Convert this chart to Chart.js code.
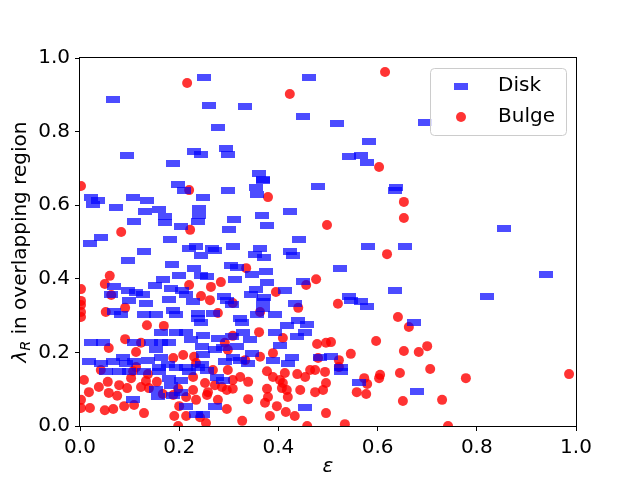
<!DOCTYPE html>
<html>
<head>
<meta charset="utf-8">
<script src="https://cdn.jsdelivr.net/npm/chart.js@4.4.0/dist/chart.umd.min.js"></script>
<style>body{margin:0;background:#fff}</style>
</head>
<body>
<canvas id="c" width="640" height="480"></canvas>
<script>
// values
const diskEps = [0.067,0.25,0.462,0.095,0.188,0.23,0.244,0.26,0.333,0.45,0.278,0.294,0.298,0.361,0.369,0.518,0.696,0.583,0.542,0.567,0.579,
  0.198,0.21,0.022,0.036,0.026,0.107,0.135,0.073,0.131,0.159,0.24,0.171,0.171,0.24,0.109,0.204,0.238,0.042,0.02,0.181,0.234,0.22,0.129,0.244,
  0.097,0.185,0.23,0.244,0.2,0.167,0.151,0.183,0.206,0.214,0.069,0.063,0.097,0.113,0.127,0.099,0.179,0.228,
  0.369,0.355,0.357,0.48,0.298,0.248,0.367,0.377,0.423,0.31,0.3,0.442,0.308,0.266,0.272,0.363,0.353,0.371,0.423,0.429,0.304,0.317,0.347,0.375,
  0.256,0.312,0.377,0.45,0.355,0.345,0.413,0.371,0.29,0.296,0.433,
  0.637,0.635,0.581,0.655,0.524,0.635,0.542,0.546,0.567,0.855,0.94,0.82,
  0.133,0.069,0.083,0.129,0.153,0.188,0.194,0.238,0.238,0.244,0.163,0.194,0.214,0.224,0.022,0.046,0.109,0.143,0.163,0.179,0.153,0.087,0.093,
  0.018,0.042,0.067,0.109,0.137,0.163,0.159,0.177,0.194,0.214,0.238,0.052,0.079,0.099,0.129,0.159,0.179,0.183,0.204,0.22,0.153,0.157,0.188,
  0.204,0.107,0.214,0.234,
  0.306,0.369,0.268,0.323,0.327,0.357,0.369,0.393,0.44,0.458,0.417,0.248,0.278,0.306,0.329,0.343,0.393,0.454,0.438,0.403,0.347,0.317,0.288,
  0.246,0.248,0.272,0.292,0.323,0.339,0.308,0.389,0.419,0.427,0.484,0.256,0.288,0.276,0.272,0.454,0.248,0.246,
  0.579,0.673,0.506,0.526,0.526,0.563,0.679];
const diskLambda = [0.886,0.946,0.948,0.734,0.712,0.745,0.739,0.87,0.867,0.84,0.81,0.755,0.739,0.685,0.671,0.823,0.826,0.774,0.731,0.734,0.715,
  0.655,0.639,0.622,0.614,0.601,0.62,0.614,0.595,0.584,0.587,0.592,0.568,0.552,0.573,0.557,0.543,0.557,0.511,0.497,0.508,0.489,0.481,0.473,0.462,
  0.451,0.44,0.427,0.408,0.41,0.397,0.383,0.375,0.367,0.356,0.38,0.356,0.367,0.364,0.356,0.34,0.345,0.337,
  0.666,0.649,0.63,0.652,0.641,0.622,0.573,0.546,0.584,0.56,0.535,0.508,0.489,0.481,0.476,0.481,0.467,0.457,0.473,0.462,0.435,0.432,0.413,0.421,
  0.405,0.399,0.391,0.394,0.372,0.356,0.367,0.348,0.353,0.34,0.334,
  0.649,0.639,0.489,0.489,0.429,0.367,0.351,0.342,0.337,0.538,0.413,0.353,
  0.334,0.31,0.302,0.304,0.304,0.315,0.302,0.307,0.293,0.28,0.253,0.253,0.253,0.234,0.226,0.226,0.228,0.228,0.226,0.228,0.207,0.185,0.171,
  0.174,0.171,0.174,0.174,0.179,0.185,0.16,0.166,0.158,0.16,0.16,0.147,0.147,0.147,0.147,0.147,0.13,0.111,0.125,0.147,0.098,0.079,0.084,
  0.09,0.071,0.052,0.03,
  0.329,0.337,0.307,0.293,0.28,0.302,0.318,0.302,0.288,0.277,0.274,0.245,0.239,0.242,0.253,0.234,0.255,0.255,0.242,0.22,0.198,0.215,0.212,
  0.215,0.193,0.207,0.174,0.179,0.171,0.185,0.179,0.171,0.185,0.185,0.152,0.125,0.133,0.052,0.049,0.03,0.166,
  0.326,0.28,0.188,0.158,0.147,0.117,0.095];

const bulgeEps = [0.216,0.423,0.615,0.603,0.002,0.22,0.083,0.222,0.06,0.05,0.063,0.002,0.002,0.22,0.244,0.379,0.498,0.335,0.264,0.284,0.395,
  0.456,0.476,0.262,0.308,0.653,0.653,0.619,0.52,
  0.002,0.002,0.002,0.052,0.091,0.135,0.169,0.091,0.058,0.113,0.123,0.188,0.208,0.23,0.008,0.018,0.038,0.002,0.002,0.056,0.058,0.075,0.079,
  0.095,0.123,0.133,0.139,0.155,0.167,0.188,0.137,0.103,0.107,0.198,0.228,0.214,0.234,0.2,0.02,0.05,0.067,0.089,0.109,0.129,0.19,0.214,
  0.198,0.242,0.042,0.113,0.228,0.234,
  0.278,0.363,0.44,0.308,0.361,0.409,0.478,0.496,0.292,0.298,0.333,0.363,0.389,0.48,0.268,0.298,0.377,0.389,0.403,0.413,0.409,0.438,0.454,
  0.464,0.474,0.494,0.323,0.339,0.308,0.252,0.272,0.286,0.258,0.296,0.308,0.377,0.407,0.417,0.419,0.379,0.373,0.339,0.278,0.256,0.444,
  0.474,0.49,0.397,0.296,0.415,0.433,0.383,0.327,0.458,0.254,
  0.641,0.663,0.506,0.597,0.653,0.683,0.7,0.546,0.522,0.522,0.496,0.573,0.579,0.605,0.603,0.645,0.706,0.558,0.577,0.496,0.651,0.73,0.534,
  0.742,0.778,0.986];
const bulgeLambda = [0.932,0.902,0.962,0.704,0.652,0.641,0.527,0.533,0.408,0.386,0.356,0.372,0.34,0.383,0.353,0.622,0.546,0.429,0.378,0.391,0.364,
  0.383,0.399,0.342,0.334,0.609,0.565,0.467,0.332,
  0.329,0.31,0.296,0.31,0.321,0.274,0.272,0.236,0.212,0.201,0.226,0.185,0.193,0.188,0.125,0.092,0.106,0.071,0.049,0.12,0.09,0.082,0.111,
  0.103,0.106,0.122,0.103,0.12,0.087,0.084,0.141,0.13,0.149,0.101,0.098,0.079,0.071,0.054,0.049,0.043,0.046,0.054,0.057,0.035,0.027,0.027,
  0.0,0.024,0.152,0.16,0.133,0.171,
  0.307,0.31,0.321,0.245,0.255,0.239,0.223,0.226,0.226,0.207,0.179,0.188,0.198,0.185,0.152,0.152,0.149,0.133,0.125,0.144,0.117,0.141,0.133,
  0.152,0.152,0.147,0.133,0.12,0.125,0.117,0.111,0.106,0.092,0.098,0.101,0.101,0.103,0.098,0.079,0.079,0.063,0.073,0.071,0.084,0.098,
  0.092,0.098,0.054,0.046,0.038,0.027,0.027,0.014,0.0,0.008,
  0.296,0.269,0.228,0.231,0.204,0.201,0.217,0.196,0.179,0.16,0.117,0.13,0.114,0.139,0.13,0.144,0.155,0.092,0.087,0.035,0.068,0.071,0.005,
  0.0,0.13,0.141];

const tickValues = [0, 0.2, 0.4, 0.6, 0.8, 1.0];
const labelDisk = 'Disk';
const labelBulge = 'Bulge';
const xTitle = 'ε';
const yTitleSymbol = 'λ';
const yTitleSub = 'R';
const yTitleRest = ' in overlapping region';

const FONT = "'DejaVu Sans', sans-serif";
const DISK_COLOR = 'rgba(0,0,255,0.7)';
const BULGE_COLOR = 'rgba(255,0,0,0.8)';

function toPoints(xs, ys) {
  return xs.map((x, i) => ({ x: x, y: ys[i] }));
}

// wide bar marker for the disk points
const diskMarker = document.createElement('canvas');
diskMarker.width = 14;
diskMarker.height = 7;
const mctx = diskMarker.getContext('2d');
mctx.fillStyle = DISK_COLOR;
mctx.fillRect(0, 0, 14, 7);

// frame, legend box and y title
const decor = {
  id: 'decor',
  afterDraw(chart) {
    const ctx = chart.ctx;
    const a = chart.chartArea;
    ctx.save();

    ctx.strokeStyle = '#000';
    ctx.lineWidth = 1;
    ctx.strokeRect(a.left - 0.5, a.top - 0.5, a.right - a.left + 1, a.bottom - a.top + 1);

    // legend
    const bw = 136, bh = 67;
    const bx = a.right - 10 - bw, by = a.top + 10;
    ctx.beginPath();
    ctx.roundRect(bx + 0.5, by + 0.5, bw, bh, 4);
    ctx.fillStyle = 'rgba(255,255,255,0.8)';
    ctx.fill();
    ctx.strokeStyle = '#cccccc';
    ctx.stroke();

    const mx = bx + 31;
    ctx.drawImage(diskMarker, mx - 7, by + 18 - 3.5);
    ctx.beginPath();
    ctx.arc(mx, by + 49, 5, 0, Math.PI * 2);
    ctx.fillStyle = BULGE_COLOR;
    ctx.fill();

    ctx.fillStyle = '#000';
    ctx.font = '20px ' + FONT;
    ctx.textBaseline = 'middle';
    ctx.textAlign = 'left';
    ctx.fillText(labelDisk, bx + 68, by + 18);
    ctx.fillText(labelBulge, bx + 68, by + 49);

    // y title with subscript
    ctx.translate(19, (a.top + a.bottom) / 2);
    ctx.rotate(-Math.PI / 2);
    const f1 = 'italic 20px ' + FONT, f2 = 'italic 14px ' + FONT, f3 = '20px ' + FONT;
    ctx.font = f1; const w1 = ctx.measureText(yTitleSymbol).width;
    ctx.font = f2; const w2 = ctx.measureText(yTitleSub).width;
    ctx.font = f3; const w3 = ctx.measureText(yTitleRest).width;
    let x = -(w1 + w2 + w3) / 2;
    ctx.textBaseline = 'alphabetic';
    ctx.font = f1; ctx.fillText(yTitleSymbol, x, 7); x += w1;
    ctx.font = f2; ctx.fillText(yTitleSub, x, 11); x += w2;
    ctx.font = f3; ctx.fillText(yTitleRest, x, 7);
    ctx.restore();
  }
};

const tickOpts = {
  callback: v => v.toFixed(1),
  font: { family: FONT, size: 20 },
  color: '#000',
  padding: 5,
  autoSkip: false,
  maxRotation: 0
};
const gridOpts = { drawOnChartArea: false, tickLength: 5, color: '#000', tickColor: '#000' };

new Chart(document.getElementById('c'), {
  type: 'scatter',
  data: {
    datasets: [
      {
        label: labelDisk,
        data: toPoints(diskEps, diskLambda),
        pointStyle: diskMarker,
        pointRadius: 7,
        pointHoverRadius: 7,
        backgroundColor: DISK_COLOR,
        borderWidth: 0,
        clip: 0
      },
      {
        label: labelBulge,
        data: toPoints(bulgeEps, bulgeLambda),
        pointStyle: 'circle',
        pointRadius: 5,
        pointHoverRadius: 5,
        backgroundColor: BULGE_COLOR,
        borderWidth: 0,
        clip: 0
      }
    ]
  },
  options: {
    responsive: false,
    animation: false,
    events: [],
    layout: { padding: { top: 58, right: 64, left: 0, bottom: 0 } },
    scales: {
      x: {
        type: 'linear',
        min: 0,
        max: 1,
        afterBuildTicks: s => { s.ticks = tickValues.map(v => ({ value: v })); },
        afterFit: s => { s.height = 54; },
        ticks: tickOpts,
        grid: gridOpts,
        border: { display: false },
        title: {
          display: true,
          text: xTitle,
          color: '#000',
          font: { family: FONT, size: 20, style: 'italic' },
          padding: { top: 0, bottom: 1 }
        }
      },
      y: {
        type: 'linear',
        min: 0,
        max: 1,
        afterBuildTicks: s => { s.ticks = tickValues.map(v => ({ value: v })); },
        afterFit: s => { s.width = 80; },
        ticks: tickOpts,
        grid: gridOpts,
        border: { display: false }
      }
    },
    plugins: {
      legend: { display: false },
      tooltip: { enabled: false }
    }
  },
  plugins: [decor]
});
</script>
</body>
</html>
